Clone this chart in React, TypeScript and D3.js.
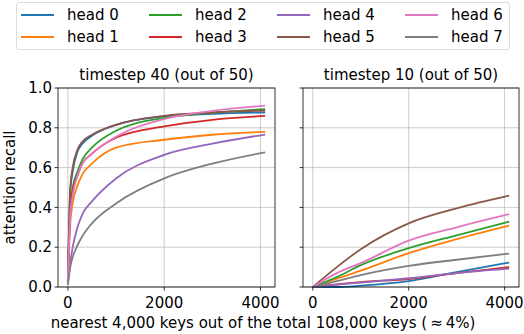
import { useEffect, useRef } from 'react';
import * as d3 from 'd3';

const heads = ['head 0', 'head 1', 'head 2', 'head 3', 'head 4', 'head 5', 'head 6', 'head 7'];
const colors = ['#1f77b4', '#ff7f0e', '#2ca02c', '#d62728', '#9467bd', '#8c564b', '#e377c2', '#7f7f7f'];

// x positions (nearest k keys) where the recall was read
const keysLeft = [0, 50, 100, 200, 300, 500, 1000, 2000, 3000, 4096];
const keysRight = [0, 500, 1000, 2000, 3000, 4096];

// timestep 40 (out of 50)
const recall40 = [
  [0.05, 0.48, 0.58, 0.68, 0.72, 0.76, 0.815, 0.857, 0.87, 0.877],
  [0.03, 0.32, 0.42, 0.51, 0.565, 0.62, 0.70, 0.74, 0.765, 0.78],
  [0.04, 0.40, 0.50, 0.58, 0.64, 0.70, 0.785, 0.85, 0.875, 0.894],
  [0.04, 0.38, 0.48, 0.56, 0.62, 0.67, 0.75, 0.807, 0.84, 0.86],
  [0.02, 0.12, 0.20, 0.30, 0.365, 0.43, 0.545, 0.664, 0.72, 0.766],
  [0.05, 0.50, 0.60, 0.69, 0.73, 0.765, 0.815, 0.86, 0.877, 0.887],
  [0.04, 0.36, 0.46, 0.56, 0.62, 0.67, 0.755, 0.844, 0.885, 0.911],
  [0.01, 0.10, 0.15, 0.21, 0.255, 0.32, 0.42, 0.546, 0.62, 0.677],
];

// timestep 10 (out of 50)
const recall10 = [
  [0, 0.0, 0.007, 0.03, 0.075, 0.123],
  [0, 0.042, 0.082, 0.17, 0.24, 0.308],
  [0, 0.05, 0.11, 0.195, 0.26, 0.328],
  [0, 0.013, 0.025, 0.04, 0.07, 0.10],
  [0, 0.012, 0.022, 0.044, 0.07, 0.092],
  [0, 0.10, 0.19, 0.32, 0.395, 0.459],
  [0, 0.07, 0.12, 0.233, 0.30, 0.366],
  [0, 0.03, 0.06, 0.106, 0.137, 0.168],
];

const yTicks = [0, 0.2, 0.4, 0.6, 0.8, 1.0];
const xTicks = [0, 2000, 4000];

export default function App() {
  const svgRef = useRef<SVGSVGElement>(null);

  useEffect(() => {
    const svg = d3.select(svgRef.current);
    svg.selectAll('*').remove();
    const font = 'DejaVu Sans, sans-serif';
    const fs = 15;

    const top = 88, bottom = 287;
    const y = d3.scaleLinear().domain([0, 1]).range([bottom, top]);

    const panels = [
      { left: 58, right: 275, title: 'timestep 40 (out of 50)', keys: keysLeft, data: recall40, labels: true },
      { left: 303, right: 519, title: 'timestep 10 (out of 50)', keys: keysRight, data: recall10, labels: false },
    ];

    panels.forEach((p) => {
      const x = d3.scaleLinear().domain([-205, 4301]).range([p.left, p.right]);
      const g = svg.append('g');

      // grid
      xTicks.forEach((t) => {
        g.append('line').attr('x1', x(t)).attr('x2', x(t)).attr('y1', top).attr('y2', bottom)
          .attr('stroke', '#b0b0b0').attr('stroke-width', 0.8).attr('opacity', 0.8);
      });
      yTicks.forEach((t) => {
        g.append('line').attr('x1', p.left).attr('x2', p.right).attr('y1', y(t)).attr('y2', y(t))
          .attr('stroke', '#b0b0b0').attr('stroke-width', 0.8).attr('opacity', 0.8);
      });

      const line = d3.line<number>()
        .x((_, i) => x(p.keys[i]))
        .y((d) => y(d))
        .curve(d3.curveMonotoneX);

      p.data.forEach((series, i) => {
        g.append('path').attr('d', line(series)).attr('fill', 'none')
          .attr('stroke', colors[i]).attr('stroke-width', 1.8);
      });

      // frame
      g.append('rect').attr('x', p.left).attr('y', top).attr('width', p.right - p.left).attr('height', bottom - top)
        .attr('fill', 'none').attr('stroke', '#000').attr('stroke-width', 0.8);

      // x ticks
      xTicks.forEach((t) => {
        g.append('line').attr('x1', x(t)).attr('x2', x(t)).attr('y1', bottom).attr('y2', bottom + 3.5)
          .attr('stroke', '#000').attr('stroke-width', 0.8);
        g.append('text').attr('x', x(t)).attr('y', bottom + 21).attr('text-anchor', 'middle')
          .attr('font-family', font).attr('font-size', fs).text(String(t));
      });
      // y ticks
      yTicks.forEach((t) => {
        g.append('line').attr('x1', p.left - 3.5).attr('x2', p.left).attr('y1', y(t)).attr('y2', y(t))
          .attr('stroke', '#000').attr('stroke-width', 0.8);
        if (p.labels) {
          g.append('text').attr('x', p.left - 6).attr('y', y(t)).attr('dy', '0.35em').attr('text-anchor', 'end')
            .attr('font-family', font).attr('font-size', fs).text(t.toFixed(1));
        }
      });

      g.append('text').attr('x', (p.left + p.right) / 2).attr('y', top - 8).attr('text-anchor', 'middle')
        .attr('font-family', font).attr('font-size', fs).text(p.title);
    });

    svg.append('text').attr('transform', `translate(15,${(top + bottom) / 2}) rotate(-90)`)
      .attr('text-anchor', 'middle').attr('font-family', font).attr('font-size', fs).text('attention recall');

    svg.append('text').attr('x', 263).attr('y', 328).attr('text-anchor', 'middle')
      .attr('font-family', font).attr('font-size', fs).text('nearest 4,000 keys out of the total 108,000 keys (\u2009\u2248\u20094%)');

    // legend
    const lg = svg.append('g');
    lg.append('rect').attr('x', 16.5).attr('y', 2.5).attr('width', 493).attr('height', 47).attr('rx', 2.5)
      .attr('fill', '#fff').attr('fill-opacity', 0.8).attr('stroke', '#d6d6d6').attr('stroke-width', 0.8);
    heads.forEach((h, i) => {
      const col = Math.floor(i / 2), row = i % 2;
      const lx = 21 + col * 128, ly = 15 + row * 22;
      lg.append('line').attr('x1', lx).attr('x2', lx + 33).attr('y1', ly).attr('y2', ly)
        .attr('stroke', colors[i]).attr('stroke-width', 1.8);
      lg.append('text').attr('x', lx + 46).attr('y', ly).attr('dy', '0.35em')
        .attr('font-family', font).attr('font-size', fs).text(h);
    });
  }, []);

  return <svg ref={svgRef} width={524} height={334} style={{ position: 'absolute', left: 0, top: 0 }} />;
}
